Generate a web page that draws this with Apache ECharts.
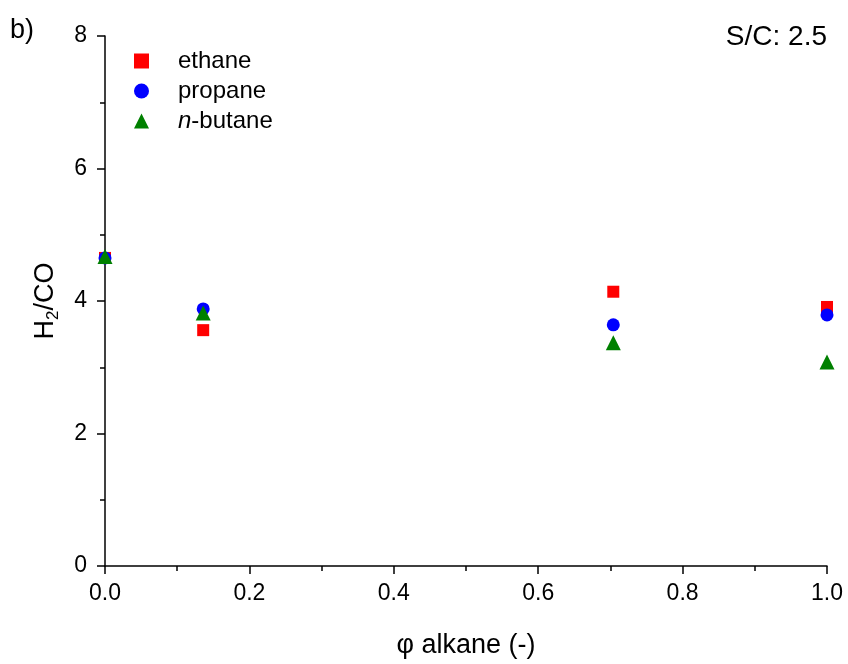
<!DOCTYPE html>
<html><head><meta charset="utf-8">
<script src="https://cdn.jsdelivr.net/npm/echarts@6/dist/echarts.min.js"></script>
<style>html,body{margin:0;padding:0;background:#fff}#c{width:848px;height:664px}</style>
</head><body><div id="c"></div>
<script>
const xValues = [0.0, 0.136, 0.704, 1.0];
const ethane = [4.65, 3.56, 4.14, 3.91];
const propane = [4.65, 3.88, 3.64, 3.79];
const butane = [4.67, 3.82, 3.37, 3.08];
const seriesNames = ['ethane', 'propane', 'n-butane'];

const F = 'Liberation Sans, Arial, sans-serif';
const chart = echarts.init(document.getElementById('c'));
function pts(arr){ return xValues.map((x,i)=>[x, arr[i]]); }
chart.setOption({
  animation: false,
  backgroundColor: '#fff',
  grid: {left: 105, right: 21, top: 36, bottom: 98},
  xAxis: {
    type: 'value', min: 0, max: 1, interval: 0.2,
    name: 'φ alkane (-)', nameLocation: 'middle', nameGap: 66,
    nameTextStyle: {fontFamily: F, fontSize: 27, color: '#000'},
    axisLine: {show: true, onZero: false, lineStyle: {color: '#000', width: 1.5}},
    axisTick: {show: true, inside: false, length: 8, lineStyle: {color: '#000', width: 1.5}},
    minorTick: {show: true, splitNumber: 2, length: 5, lineStyle: {color: '#000', width: 1.5}},
    axisLabel: {fontFamily: F, fontSize: 23, color: '#000', margin: 16, formatter: v => v.toFixed(1)},
    splitLine: {show: false}
  },
  yAxis: {
    type: 'value', min: 0, max: 8, interval: 2,
    name: '{n|H}{s|2}{n|/CO}', nameLocation: 'middle', nameGap: 43,
    nameTextStyle: {fontFamily: F, fontSize: 27, color: '#000',
      rich: {n: {fontFamily: F, fontSize: 27, color: '#000'},
             s: {fontFamily: F, fontSize: 17, color: '#000', padding: [16, 0, 0, 0]}}},
    axisLine: {show: true, onZero: false, lineStyle: {color: '#000', width: 1.5}},
    axisTick: {show: true, inside: false, length: 8, lineStyle: {color: '#000', width: 1.5}},
    minorTick: {show: true, splitNumber: 2, length: 5, lineStyle: {color: '#000', width: 1.5}},
    axisLabel: {fontFamily: F, fontSize: 23, color: '#000', margin: 18},
    splitLine: {show: false}
  },
  legend: {
    left: 129, top: 44, orient: 'vertical', itemGap: 6, itemWidth: 15, itemHeight: 15,
    data: [
      {name: seriesNames[0], icon: 'rect'},
      {name: seriesNames[1], icon: 'circle'},
      {name: seriesNames[2], icon: 'triangle'}
    ],
    textStyle: {fontFamily: F, fontSize: 24, color: '#000', padding: [0,0,0,24],
      rich: {i: {fontFamily: F, fontSize: 24, fontStyle: 'italic', color: '#000'},
             r: {fontFamily: F, fontSize: 24, color: '#000'}}},
    formatter: n => n === 'n-butane' ? '{i|n}{r|-butane}' : n
  },
  graphic: [
    {type: 'text', left: 10, top: 17, style: {text: 'b)', font: '27px ' + F, fill: '#000'}},
    {type: 'text', right: 21, top: 23, style: {text: 'S/C: 2.5', font: '28px ' + F, fill: '#000'}}
  ],
  series: [
    {name: seriesNames[0], type: 'scatter', data: pts(ethane), symbol: 'rect', symbolSize: 12, itemStyle: {color: '#ff0000', opacity: 1}, z: 3},
    {name: seriesNames[1], type: 'scatter', data: pts(propane), symbol: 'circle', symbolSize: 13, itemStyle: {color: '#0000ff', opacity: 1}, z: 4},
    {name: seriesNames[2], type: 'scatter', data: pts(butane), symbol: 'triangle', symbolSize: 15, itemStyle: {color: '#008000', opacity: 1}, z: 5}
  ]
});
</script></body></html>
